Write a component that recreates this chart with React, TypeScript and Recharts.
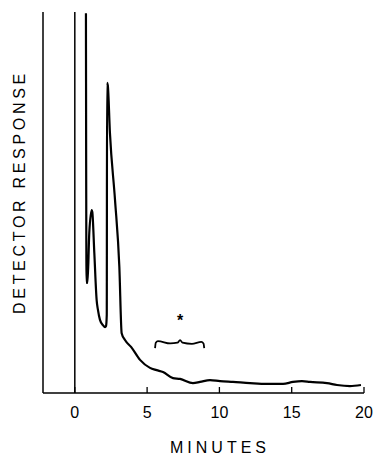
import React from "react";
import {
  LineChart,
  Line,
  XAxis,
  YAxis,
  ReferenceLine,
  ReferenceDot,
} from "recharts";

// chromatogram trace, minutes vs. relative detector response (0-100)
const traceMinutes = [
  0.77, 0.81, 0.88, 1.0, 1.17, 1.21, 1.35, 1.51, 1.6, 1.74, 1.95, 2.09, 2.16,
  2.21, 2.23, 2.28, 2.43, 2.78, 3.08, 3.24, 3.47, 3.89, 4.51, 5.2, 5.66, 6.1,
  6.79, 7.28, 8.17, 8.66, 9.35, 10.04, 10.94, 12.12, 13.29, 14.4, 15.09, 15.71,
  16.27, 17.44, 18.13, 19.03, 19.79,
];
const traceResponse = [
  99.7, 28.9, 28.9, 42.0, 48.0, 47.5, 36.7, 24.4, 21.8, 19.2, 17.8, 17.3, 17.6,
  20.5, 81.4, 80.8, 68.2, 50.7, 33.1, 15.7, 13.9, 12.1, 8.7, 6.6, 6.0, 5.5, 3.9,
  3.7, 2.6, 2.9, 3.4, 3.1, 2.9, 2.6, 2.4, 2.4, 2.9, 3.1, 2.9, 2.6, 2.1, 1.8,
  2.1,
];

// curly bracket marking the "*" region
const bracketMinutes = [5.55, 5.6, 5.75, 6.6, 7.1, 7.28, 7.45, 8.1, 8.75, 8.9, 8.95];
const bracketResponse = [11.8, 13.2, 13.6, 13.0, 13.2, 13.9, 13.2, 12.9, 13.4, 13.0, 11.8];

const xTicks = [0, 5, 10, 15, 20];
const asterisk = { minute: 7.28, response: 19.7 };

const traceData = traceMinutes.map((m, i) => ({ x: m, y: traceResponse[i] }));
const bracketData = bracketMinutes.map((m, i) => ({ x: m, y: bracketResponse[i] }));

const FONT = "'Liberation Sans', Arial, sans-serif";

function Tick(props: any) {
  const { x, y, payload } = props;
  return (
    <g>
      <line x1={x} y1={y} x2={x} y2={y - 6} stroke="#000" strokeWidth={1.3} />
      <text
        x={x}
        y={y + 25}
        textAnchor="middle"
        fontSize={16}
        fontFamily={FONT}
        fill="#000"
      >
        {payload.value}
      </text>
    </g>
  );
}

export default function App() {
  return (
    <div style={{ position: "absolute", left: 0, top: 0, background: "#fff" }}>
      <LineChart
        width={377}
        height={457}
        margin={{ top: 12, right: 13, left: 42, bottom: 34 }}
      >
        <XAxis
          dataKey="x"
          type="number"
          domain={[-2.2, 20]}
          ticks={xTicks}
          height={30}
          tickSize={0}
          tickMargin={0}
          tickLine={false}
          axisLine={{ stroke: "#000", strokeWidth: 1.5 }}
          tick={<Tick />}
          allowDataOverflow
          label={{
            content: () => (
              <text
                x={220}
                y={453}
                textAnchor="middle"
                fontSize={16}
                fontFamily={FONT}
                letterSpacing={4}
                fill="#000"
              >
                MINUTES
              </text>
            ),
          }}
        />
        <YAxis
          type="number"
          domain={[0, 100]}
          width={1}
          tick={false}
          tickLine={false}
          axisLine={{ stroke: "#000", strokeWidth: 1.5 }}
          allowDataOverflow
          label={{
            content: () => (
              <text
                x={25}
                y={192}
                transform="rotate(-90 25 192)"
                textAnchor="middle"
                fontSize={16}
                fontFamily={FONT}
                letterSpacing={3.7}
                fill="#000"
              >
                DETECTOR RESPONSE
              </text>
            ),
          }}
        />
        <ReferenceLine x={0} stroke="#000" strokeWidth={1.5} />
        <Line
          data={traceData}
          dataKey="y"
          type="monotoneX"
          stroke="#000"
          strokeWidth={2.2}
          dot={false}
          strokeLinejoin="round"
          isAnimationActive={false}
        />
        <Line
          data={bracketData}
          dataKey="y"
          type="monotone"
          stroke="#000"
          strokeWidth={1.8}
          dot={false}
          isAnimationActive={false}
        />
        <ReferenceDot
          x={asterisk.minute}
          y={asterisk.response}
          r={0}
          shape={(p: any) => (
            <text
              x={p.cx}
              y={p.cy + 8}
              textAnchor="middle"
              fontSize={16}
              fontFamily={FONT}
              fontWeight="bold"
              fill="#000"
            >
              *
            </text>
          )}
        />
      </LineChart>
    </div>
  );
}
